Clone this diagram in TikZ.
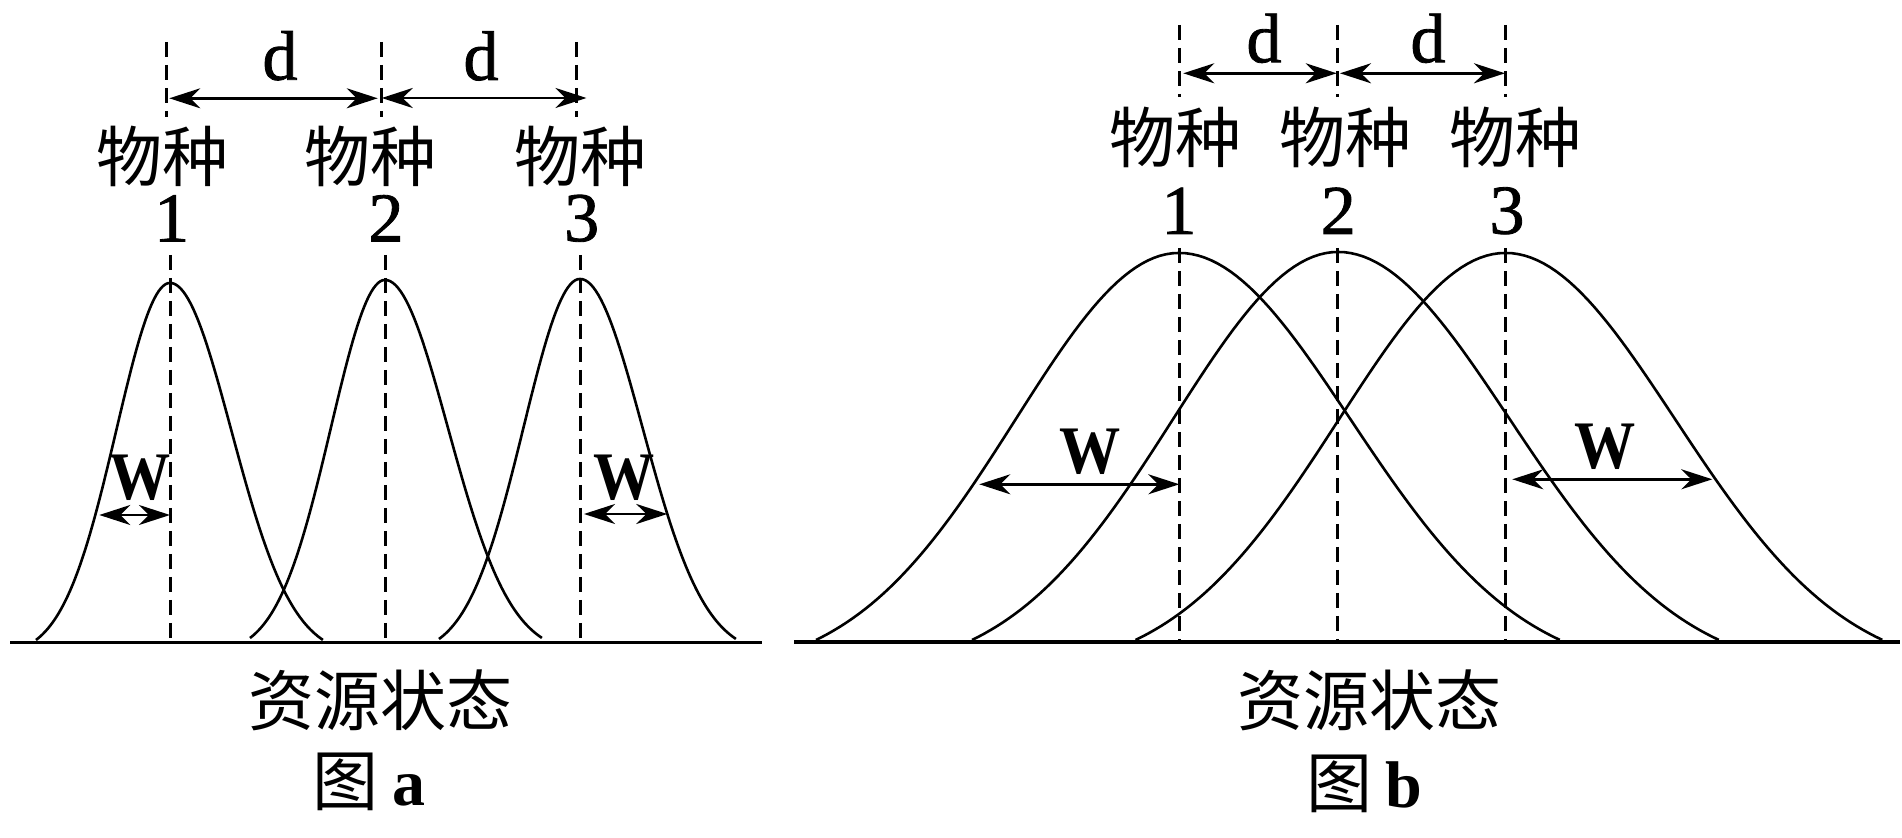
\documentclass[tikz,border=0pt]{standalone}
\usepackage{fontspec}
\setmainfont{Liberation Serif}
\newfontfamily\cjkf{Noto Sans CJK SC}
\newfontfamily\latmed[FakeBold=1.2]{Liberation Serif}
\usetikzlibrary{arrows.meta}
\newcommand{\bellcurve}[6]{%
  \draw[curve] plot[domain=1:0,samples=60]
    ({#1-#4*\x},{#2-#3*(exp(-\x*\x/(2*#6*#6))-exp(-1/(2*#6*#6)))/(1-exp(-1/(2*#6*#6)))})
    -- plot[domain=0:1,samples=60]
    ({#1+#5*\x},{#2-#3*(exp(-\x*\x/(2*#6*#6))-exp(-1/(2*#6*#6)))/(1-exp(-1/(2*#6*#6)))});}
\begin{document}
\begin{tikzpicture}[x=0.5pt,y=-0.5pt,
  curve/.style={line width=1.3pt, line join=round},
  axisline/.style={line width=1.8pt},
  guide/.style={line width=1.5pt, dash pattern=on 7.5pt off 4pt},
  dimarrow/.style={line width=1.35pt,
     {Stealth[length=15.5pt,width=10pt,inset=5pt]}-{Stealth[length=15.5pt,width=10pt,inset=5pt]}},
  lat/.style={font=\fontsize{35}{36}\selectfont\latmed, inner sep=0pt},
  num/.style={font=\fontsize{35}{36}\selectfont\latmed, inner sep=0pt},
  wlab/.style={font=\fontsize{34}{36}\selectfont\bfseries, inner sep=0pt, xscale=0.9},
  cjk/.style={font=\fontsize{33}{36}\selectfont\cjkf, inner sep=0pt},
]
\fill[white] (0,0) rectangle (1902,838);
\useasboundingbox (0,0) rectangle (1902,838);

% ================= Panel a =================
\coordinate (aL) at (10,642.7);
\coordinate (aR) at (762,642.7);
\draw[axisline] (aL) -- (aR);

\coordinate (a1t) at (166.5,42);  \coordinate (a1m) at (166.5,117);
\coordinate (a2t) at (381.7,42);  \coordinate (a2m) at (381.7,117);
\coordinate (a3t) at (576.8,42);  \coordinate (a3m) at (576.8,117);
\coordinate (a1u) at (170,255);   \coordinate (a1b) at (170,642);
\coordinate (a2u) at (385,255);   \coordinate (a2b) at (385,642);
\coordinate (a3u) at (580,255);   \coordinate (a3b) at (580,642);
\draw[guide] (a1t) -- (a1m);
\draw[guide] (a2t) -- (a2m);
\draw[guide] (a3t) -- (a3m);
\draw[guide] (a1u) -- (a1b);
\draw[guide] (a2u) -- (a2b);
\draw[guide] (a3u) -- (a3b);

\bellcurve{170}{640}{357}{134}{153}{0.4}
\bellcurve{385}{638}{358}{135}{157}{0.4}
\bellcurve{580}{639}{360}{141}{156}{0.4}

\coordinate (ad1s) at (169.3,98.3); \coordinate (ad1e) at (377.7,98.3);
\coordinate (ad2s) at (381.7,98);   \coordinate (ad2e) at (586.5,98);
\draw[dimarrow] (ad1s) -- (ad1e);
\draw[dimarrow] (ad2s) -- (ad2e);
\node[lat] (ada) at (280,55.8) {d};
\node[lat] (adb) at (481,56) {d};

\node[cjk] (as1) at (162,156) {物种};
\node[cjk] (as2) at (370,156) {物种};
\node[cjk] (as3) at (580.5,156) {物种};
\node[num] (an1) at (171.7,218.3) {1};
\node[num] (an2) at (386,218.3) {2};
\node[num] (an3) at (581.7,218.3) {3};

\coordinate (aw1s) at (99.3,515); \coordinate (aw1e) at (170,515);
\coordinate (aw2s) at (584,514);  \coordinate (aw2e) at (667.3,514);
\draw[dimarrow] (aw1s) -- (aw1e);
\draw[dimarrow] (aw2s) -- (aw2e);
\node[wlab] (awa) at (140,477.5) {W};
\node[wlab] (awb) at (624,477.5) {W};

\node[cjk] (ares) at (380,700) {资源状态};
\node[cjk] (afig) at (369,782) {图\hspace{0.2em}{\fontspec{Liberation Serif}\bfseries a}};

% ================= Panel b =================
\coordinate (bL) at (794,642.3);
\coordinate (bR) at (1900,642.3);
\draw[axisline] (bL) -- (bR);

\coordinate (b1t) at (1179,25);    \coordinate (b1m) at (1179,97);
\coordinate (b2t) at (1337.7,25);  \coordinate (b2m) at (1337.7,97);
\coordinate (b3t) at (1505.5,25);  \coordinate (b3m) at (1505.5,97);
\coordinate (b1u) at (1179,248);   \coordinate (b1b) at (1179,642);
\coordinate (b2u) at (1337.7,248); \coordinate (b2b) at (1337.7,642);
\coordinate (b3u) at (1505.5,248); \coordinate (b3b) at (1505.5,642);
\draw[guide] (b1t) -- (b1m);
\draw[guide] (b2t) -- (b2m);
\draw[guide] (b3t) -- (b3m);
\draw[guide] (b1u) -- (b1b);
\draw[guide] (b2u) -- (b2b);
\draw[guide] (b3u) -- (b3b);

\bellcurve{1179}{640}{387}{363}{381}{0.45}
\bellcurve{1338}{640}{388}{366}{381}{0.45}
\bellcurve{1505.5}{640}{387}{370}{377}{0.45}

\coordinate (bd1s) at (1183.3,73.3); \coordinate (bd1e) at (1336.7,73.3);
\coordinate (bd2s) at (1340,73.3);   \coordinate (bd2e) at (1505,73.3);
\draw[dimarrow] (bd1s) -- (bd1e);
\draw[dimarrow] (bd2s) -- (bd2e);
\node[lat] (bda) at (1264,38.3) {d};
\node[lat] (bdb) at (1428,38.3) {d};

\node[cjk] (bs1) at (1175,137.5) {物种};
\node[cjk] (bs2) at (1345,137.5) {物种};
\node[cjk] (bs3) at (1515,137.5) {物种};
\node[num] (bn1) at (1179,210.8) {1};
\node[num] (bn2) at (1338.3,210.8) {2};
\node[num] (bn3) at (1507,210.8) {3};

\coordinate (bw1s) at (979.3,484.3);  \coordinate (bw1e) at (1179.3,484.3);
\coordinate (bw2s) at (1512.3,479.3); \coordinate (bw2e) at (1712.3,479.3);
\draw[dimarrow] (bw1s) -- (bw1e);
\draw[dimarrow] (bw2s) -- (bw2e);
\node[wlab] (bwa) at (1090,452) {W};
\node[wlab] (bwb) at (1605,446.7) {W};

\node[cjk] (bres) at (1369,700) {资源状态};
\node[cjk] (bfig) at (1364,784) {图\hspace{0.2em}{\fontspec{Liberation Serif}\bfseries b}};
\end{tikzpicture}
\end{document}
